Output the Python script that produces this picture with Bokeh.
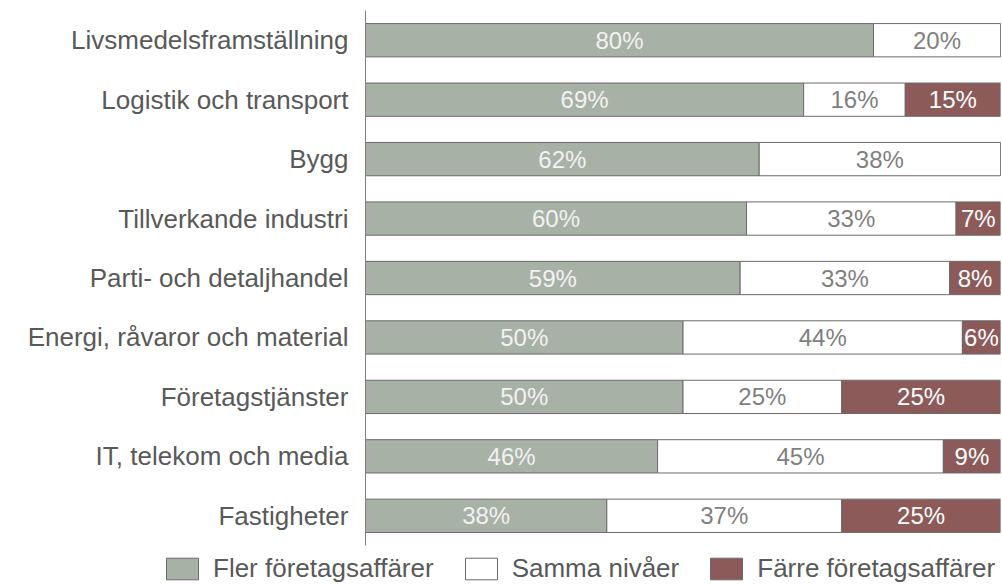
from bokeh.plotting import figure
from bokeh.layouts import column
from bokeh.models import ColumnDataSource, Legend, LegendItem, Range1d, FactorRange
from bokeh.core.properties import value
from bokeh.embed import file_html
from bokeh.resources import INLINE
import numpy as np

categories = ["Livsmedelsframställning", "Logistik och transport", "Bygg",
              "Tillverkande industri", "Parti- och detaljhandel",
              "Energi, råvaror och material", "Företagstjänster",
              "IT, telekom och media", "Fastigheter"]
fler = [80, 69, 62, 60, 59, 50, 50, 46, 38]
samma = [20, 16, 38, 33, 33, 44, 25, 45, 37]
farre = [0, 15, 0, 7, 8, 6, 25, 9, 25]
series_names = ["Fler företagsaffärer", "Samma nivåer", "Färre företagsaffärer"]
colors = ["#A7B1A6", "#FFFFFF", "#8C5A59"]
label_colors = ["#F2F2F2", "#7F7F7F", "#FFFFFF"]

FONT = "Liberation Sans"
OUTLINE = "#6A6A6A"

src = ColumnDataSource(dict(cat=categories, fler=fler, samma=samma, farre=farre))

p = figure(width=1002, height=552, output_backend="svg", toolbar_location=None,
           y_range=FactorRange(factors=categories[::-1], range_padding=0),
           x_range=Range1d(0, 100),
           min_border_left=365, min_border_right=2, min_border_top=10, min_border_bottom=7)
p.frame_align = False

rs = p.hbar_stack(["fler", "samma", "farre"], y="cat", height=0.56, color=colors,
                  line_color=OUTLINE, line_width=1, source=src)

f = np.array(fler, dtype=float)
s = np.array(samma, dtype=float)
r = np.array(farre, dtype=float)
segs = [(f / 2, f), (f + s / 2, s), (f + s + r / 2, r)]
for (centers, vals), col in zip(segs, label_colors):
    mask = vals > 0
    ts = ColumnDataSource(dict(
        x=list(centers[mask]),
        y=[c for c, m in zip(categories, mask) if m],
        t=[f"{int(v)}%" for v in vals[mask]],
    ))
    p.text(x="x", y="y", text="t", source=ts, text_align="center",
           text_baseline="middle", text_color=col, text_font=value(FONT),
           text_font_size="24px")

p.xaxis.visible = False
p.xgrid.grid_line_color = None
p.ygrid.grid_line_color = None
p.outline_line_color = None
p.yaxis.axis_line_color = "#7F7F7F"
p.yaxis.axis_line_width = 1
p.yaxis.major_tick_line_color = None
p.yaxis.minor_tick_line_color = None
p.yaxis.major_label_text_font = FONT
p.yaxis.major_label_text_font_size = "26px"
p.yaxis.major_label_text_color = "#595959"
p.yaxis.major_label_standoff = 11

# legend strip below the chart
lg = figure(width=1002, height=32, output_backend="svg", toolbar_location=None,
            x_range=Range1d(0, 1), y_range=Range1d(0, 1),
            min_border_left=0, min_border_right=0, min_border_top=0, min_border_bottom=0)
lg.frame_align = False
lg.xaxis.visible = False
lg.yaxis.visible = False
lg.xgrid.grid_line_color = None
lg.ygrid.grid_line_color = None
lg.outline_line_color = None
items = []
for name, col in zip(series_names, colors):
    # off-range swatch renderer, used only to draw the legend key
    rr = lg.rect(x=[-5], y=[-5], width=[0.01], height=[0.01], fill_color=col, line_color=OUTLINE)
    items.append(LegendItem(label=name, renderers=[rr]))
legend = Legend(items=items, orientation="horizontal", glyph_width=40, glyph_height=27,
                label_standoff=11, spacing=27, padding=0, margin=0,
                border_line_color=None, background_fill_alpha=0,
                label_text_font=FONT, label_text_font_size="26px",
                label_text_color="#595959", location=(162, 0))
lg.add_layout(legend, "center")

layout = column(p, lg, spacing=0)
open("out.html", "w").write(file_html(layout, INLINE))
